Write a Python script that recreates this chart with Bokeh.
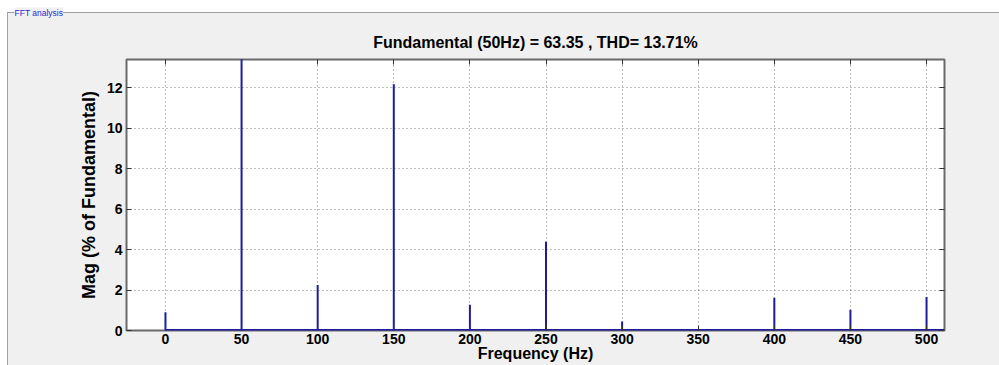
from bokeh.plotting import figure
from bokeh.models import Range1d, LinearAxis, FixedTicker, Title, ColumnDataSource
from bokeh.embed import file_html
from bokeh.resources import INLINE

# ---- data ----
freq_hz = [0, 50, 100, 150, 200, 250, 300, 350, 400, 450, 500]
mag_pct = [0.90, 100.0, 2.25, 12.17, 1.27, 4.38, 0.45, 0.05, 1.62, 1.03, 1.65]
x_ticks = [0, 50, 100, 150, 200, 250, 300, 350, 400, 450, 500]
y_ticks = [0, 2, 4, 6, 8, 10, 12]
title_text = "Fundamental (50Hz) = 63.35 , THD= 13.71%"
x_label = "Frequency (Hz)"
y_label = "Mag (% of Fundamental)"
panel_label = "FFT analysis"

FONT = "Liberation Sans"
BAR = "#1c1c9c"
BG = "#f0f0f0"
EDGE = "#a0a0a0"

src = ColumnDataSource(dict(f=freq_hz, m=mag_pct))

# group-box look (white outside, grey panel with border) as CSS behind a
# transparent canvas border
box_css = (
    f"linear-gradient({EDGE},{EDGE}) 7px 12px / 1px 353px no-repeat, "
    f"linear-gradient({EDGE},{EDGE}) 7px 12px / 992px 1px no-repeat, "
    f"linear-gradient({BG},{BG}) 7px 12px / 992px 353px no-repeat, white"
)

p = figure(width=999, height=365, output_backend="svg", toolbar_location=None,
           x_range=Range1d(-25.6, 511.8), y_range=Range1d(0, 13.39),
           min_border_left=126, min_border_right=55, min_border_top=59,
           min_border_bottom=35, background_fill_color="white",
           border_fill_color=None, outline_line_color="#6a6a6a",
           outline_line_width=2, styles={"background": box_css})
p.title = None

bx = p.below[0]
ly = p.left[0]

xt = FixedTicker(ticks=x_ticks)
yt = FixedTicker(ticks=y_ticks)

top_ax = LinearAxis(ticker=xt)
right_ax = LinearAxis(ticker=yt)
p.add_layout(top_ax, "above")
p.add_layout(right_ax, "right")

main_title = Title(text=title_text, align="center", text_font=FONT,
                   text_font_style="bold", text_font_size="16px",
                   text_color="black", standoff=18)
p.add_layout(main_title, "above")
box_title = Title(text=panel_label, align="left", offset=-112, text_font=FONT,
                  text_font_style="normal", text_font_size="8.5px",
                  text_color="#2a2ad0", background_fill_color=BG, standoff=10)
p.add_layout(box_title, "above")

bx.ticker = xt
ly.ticker = yt
p.xgrid.ticker = xt
p.ygrid.ticker = yt

for ax in [bx, ly, top_ax, right_ax]:
    ax.axis_line_color = None
    ax.major_tick_in = 5
    ax.major_tick_out = 0
    ax.major_tick_line_color = "#333333"
    ax.major_tick_line_width = 1
    ax.minor_tick_line_color = None
    ax.major_label_text_font = FONT
    ax.major_label_text_font_style = "bold"
    ax.major_label_text_color = "black"
    ax.axis_label_text_font = FONT
    ax.axis_label_text_font_style = "bold"
    ax.axis_label_text_color = "black"

for ax in [top_ax, right_ax]:
    ax.major_label_text_font_size = "1px"
    ax.major_label_text_color = None
    ax.major_label_standoff = 0

bx.major_label_text_font_size = "14px"
bx.major_label_standoff = 3
bx.axis_label = x_label
bx.axis_label_text_font_size = "16px"
bx.axis_label_standoff = -2

ly.major_label_text_font_size = "14px"
ly.major_label_standoff = 4
ly.axis_label = y_label
ly.axis_label_text_font_size = "18px"
ly.axis_label_standoff = 5

for g in [p.xgrid, p.ygrid]:
    g.grid_line_color = "#7a7a7a"
    g.grid_line_dash = "1 3"
    g.grid_line_width = 1

# spectrum bars
p.segment(x0="f", y0=0, x1="f", y1="m", source=src, line_color=BAR, line_width=2)
# baseline of the (small) remaining bins
p.segment(x0=freq_hz[0], y0=0, x1=p.x_range.end, y1=0, line_color=BAR, line_width=3)

open("out.html", "w").write(file_html(p, INLINE))
